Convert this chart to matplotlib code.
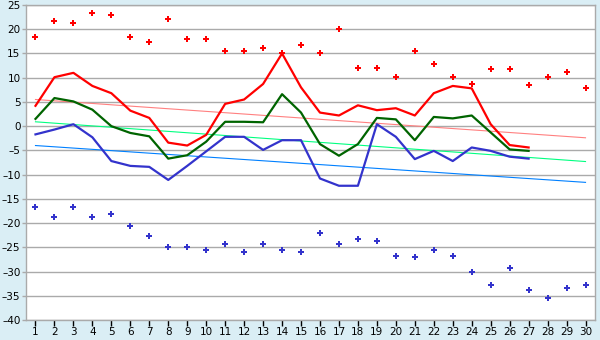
import matplotlib
matplotlib.use('Agg')
import matplotlib.pyplot as plt
from matplotlib.ticker import FuncFormatter
import numpy as np

# Daily series (days 1..27) and records (days 1..30)
days = np.arange(1, 31)
line_days = np.arange(1, 28)

max_temp = [4.2, 10.1, 11.0, 8.3, 6.8, 3.2, 1.7, -3.4, -4.0, -1.8, 4.6, 5.5, 8.7, 15.0,
            8.0, 2.8, 2.2, 4.3, 3.3, 3.7, 2.2, 6.8, 8.3, 7.8, 0.4, -3.9, -4.4]
mean_temp = [1.5, 5.8, 5.1, 3.4, 0.0, -1.4, -2.1, -6.7, -6.0, -3.2, 0.9, 0.9, 0.8, 6.6,
             2.8, -3.7, -6.1, -3.7, 1.7, 1.4, -2.9, 1.9, 1.6, 2.2, -1.3, -4.8, -5.1]
min_temp = [-1.7, -0.7, 0.4, -2.3, -7.2, -8.2, -8.4, -11.1, -8.2, -5.2, -2.2, -2.2, -4.9, -2.9,
            -2.9, -10.8, -12.3, -12.3, 0.4, -2.2, -6.8, -5.1, -7.2, -4.4, -5.1, -6.3, -6.7]

record_max = [18.3, 21.8, 21.2, 23.3, 22.9, 18.3, 17.3, 22.2, 17.9, 17.9, 15.6, 15.6, 16.1, 15.0, 16.7,
              15.0, 20.0, 12.1, 12.1, 10.1, 15.6, 12.8, 10.1, 8.8, 11.7, 11.7, 8.4, 10.1, 11.1, 7.8]
record_min = [-16.7, -18.8, -16.7, -18.8, -18.2, -20.5, -22.7, -25.0, -25.0, -25.6, -24.4, -26.0, -24.4,
              -25.6, -26.0, -22.1, -24.4, -23.3, -23.8, -26.7, -27.1, -25.6, -26.7, -30.0, -32.8, -29.3,
              -33.9, -35.5, -33.3, -32.8]

# Trend lines: values at day 1 and day 30
trend_days = [1, 30]
trend_max = [5.5, -2.4]
trend_mean = [0.9, -7.3]
trend_min = [-4.0, -11.6]

fig = plt.figure(figsize=(6.0, 3.4), dpi=100, facecolor='#daeef5')
ax = fig.add_axes([26 / 600, 20 / 340, 569 / 600, 315 / 340])
ax.set_facecolor('white')

ax.plot(trend_days, trend_max, color='#ff8080', lw=0.8)
ax.plot(trend_days, trend_mean, color='#00ff80', lw=0.8)
ax.plot(trend_days, trend_min, color='#0080ff', lw=0.8)

ax.plot(line_days, max_temp, color='#ff0000', lw=1.6)
ax.plot(line_days, mean_temp, color='#006400', lw=1.6)
ax.plot(line_days, min_temp, color='#3333cc', lw=1.6)

ax.plot(days, record_max, ls='none', marker='P', ms=4.5, color='#ff0000', mew=0)
ax.plot(days, record_min, ls='none', marker='P', ms=4.5, color='#3333cc', mew=0)

ax.set_xlim(0.5, 30.5)
ax.set_ylim(-40, 25)
ax.set_xticks(days)
ax.set_yticks(np.arange(-40, 26, 5))
# short dash for negative numbers keeps the labels inside the left margin
ax.yaxis.set_major_formatter(FuncFormatter(lambda v, _: f'{v:.0f}'.replace('-', '\u2013')))
ax.yaxis.grid(True, color='#aaaaaa', lw=1)
ax.set_axisbelow(True)
ax.tick_params(axis='both', labelsize=7.5, colors='black', length=4, width=1, pad=1)
ax.tick_params(axis='y', color='#aaaaaa', length=3)
for s in ax.spines.values():
    s.set_color('#aaaaaa')
    s.set_linewidth(1)

fig.savefig('out.png', dpi=100, facecolor=fig.get_facecolor())
